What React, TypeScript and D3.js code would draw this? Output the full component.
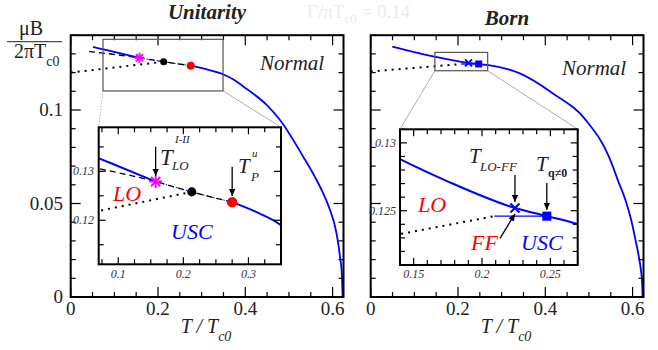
import * as d3 from "d3"

// main axes
const tDomain = [0, 0.625]
const bDomain = [0, 0.14]
const xTickValues = [0, 0.2, 0.4, 0.6]
const xTickLabels = ["0", "0.2", "0.4", "0.6"]
const yTickValues = [0, 0.05, 0.1]
const yTickLabels = ["0", "0.05", "0.1"]

// Unitarity: first-order (solid) branch up to T_LO^I-II, then second-order line from T_P^u
const uniSolidAT = [0.051, 0.09, 0.1575]
const uniSolidAB = [0.1337, 0.1316, 0.1279]
const uniSolidBT = [0.275, 0.31, 0.35, 0.373, 0.4, 0.4167, 0.45, 0.48, 0.533, 0.56, 0.579, 0.595, 0.606, 0.612, 0.617, 0.621, 0.623]
const uniSolidBB = [0.1237, 0.1218, 0.119, 0.1163, 0.1118, 0.109, 0.1025, 0.0945, 0.0749, 0.064, 0.0552, 0.046, 0.0373, 0.03, 0.0215, 0.013, 0]
const uniDashT = [0.042, 0.1575, 0.213, 0.275]
const uniDashB = [0.1313, 0.1279, 0.1258, 0.1237]
const uniDotT = [0, 0.213]
const uniDotB = [0.12, 0.1258]
const uniMagenta = [0.1575, 0.1279]
const uniBlack = [0.213, 0.1258]
const uniRed = [0.275, 0.1237]

// Born
const bornSolidT = [0.0495, 0.14, 0.174, 0.2241, 0.2474, 0.27, 0.3406, 0.4167, 0.493, 0.546, 0.567, 0.584, 0.597, 0.607, 0.614, 0.619, 0.622, 0.623]
const bornSolidB = [0.1339, 0.1288, 0.1272, 0.1252, 0.1246, 0.124, 0.1197, 0.109, 0.0946, 0.0749, 0.062, 0.0516, 0.041, 0.0301, 0.022, 0.0145, 0.007, 0]
const bornDotT = [0, 0.209]
const bornDotB = [0.1206, 0.1246]
const bornFFT = [0.209, 0.2474]
const bornFFB = [0.1246, 0.1246]
const bornCross = [0.2241, 0.1252]
const bornSquare = [0.2474, 0.1246]

// zoom boxes and insets
const uniBoxT = [0.074, 0.349]
const uniBoxB = [0.1102, 0.1378]
const uniInsetT = [0.07, 0.35]
const uniInsetB = [0.111, 0.139]
const uniInsetXTicks = [0.1, 0.2, 0.3]
const uniInsetXLabels = ["0.1", "0.2", "0.3"]
const uniInsetYTicks = [0.12, 0.13]
const uniInsetYLabels = ["0.12", "0.13"]

const bornBoxT = [0.147, 0.268]
const bornBoxB = [0.121, 0.1308]
const bornInsetT = [0.14, 0.27]
const bornInsetB = [0.121, 0.131]
const bornInsetXTicks = [0.15, 0.2, 0.25]
const bornInsetXLabels = ["0.15", "0.2", "0.25"]
const bornInsetYTicks = [0.125, 0.13]
const bornInsetYLabels = ["0.125", "0.13"]

const BLUE = "#0000ff"
const SERIF = "Liberation Serif"

const zip = (a: number[], b: number[]) => a.map((v, i) => [v, b[i]] as [number, number])

function Txt({ children, ...rest }: any) {
  return (
    <text {...rest} style={{ fontFamily: SERIF }}>
      {children}
    </text>
  )
}

function minorRange(lo: number, hi: number, step: number, major: number[]) {
  return d3
    .range(Math.ceil(lo / step - 1e-6) * step, hi + 1e-9, step)
    .filter((v) => !major.some((m) => Math.abs(m - v) < step / 10))
}

function Frame({ x, y, xMaj, xMin, yMaj, yMin, lMaj, lMin, sw }: any) {
  const [x0, x1] = x.range()
  const [y0, y1] = y.range()
  const ticks: any[] = []
  const addX = (vals: number[], len: number) =>
    vals.forEach((v) => {
      const px = x(v)
      ticks.push([px, y0, px, y0 - len], [px, y1, px, y1 + len])
    })
  const addY = (vals: number[], len: number) =>
    vals.forEach((v) => {
      const py = y(v)
      ticks.push([x0, py, x0 + len, py], [x1, py, x1 - len, py])
    })
  addX(xMaj, lMaj)
  addX(xMin, lMin)
  addY(yMaj, lMaj)
  addY(yMin, lMin)
  return (
    <g stroke="#000">
      {ticks.map((t, i) => (
        <line key={i} x1={t[0]} y1={t[1]} x2={t[2]} y2={t[3]} strokeWidth={1.2} />
      ))}
      <rect x={x0} y={y1} width={x1 - x0} height={y0 - y1} fill="none" strokeWidth={sw} />
    </g>
  )
}

function Asterisk({ cx, cy, r, color }: any) {
  return (
    <g stroke={color} strokeWidth={2}>
      {[0, 45, 90, 135].map((a) => {
        const dx = r * Math.cos((a * Math.PI) / 180)
        const dy = r * Math.sin((a * Math.PI) / 180)
        return <line key={a} x1={cx - dx} y1={cy - dy} x2={cx + dx} y2={cy + dy} />
      })}
    </g>
  )
}

function Cross({ cx, cy, r, color }: any) {
  return (
    <g stroke={color} strokeWidth={2}>
      <line x1={cx - r} y1={cy - r} x2={cx + r} y2={cy + r} />
      <line x1={cx - r} y1={cy + r} x2={cx + r} y2={cy - r} />
    </g>
  )
}

function UnitarityMarks({ x, y, s, lw }: any) {
  const line = d3
    .line<[number, number]>()
    .x((d) => x(d[0]))
    .y((d) => y(d[1]))
    .curve(d3.curveMonotoneX)
  return (
    <g>
      <path d={line(zip(uniDotT, uniDotB))!} fill="none" stroke="#000" strokeWidth={2} strokeDasharray="2,5" />
      <path d={line(zip(uniDashT.slice(1), uniDashB.slice(1)))!} fill="none" stroke={BLUE} strokeWidth={1} strokeDasharray="1.5,2" />
      <path d={line(zip(uniDashT, uniDashB))!} fill="none" stroke="#000" strokeWidth={1.3} strokeDasharray="6,4" />
      <path d={line(zip(uniSolidAT, uniSolidAB))!} fill="none" stroke={BLUE} strokeWidth={lw} />
      <path d={line(zip(uniSolidBT, uniSolidBB))!} fill="none" stroke={BLUE} strokeWidth={lw} />
      <Asterisk cx={x(uniMagenta[0])} cy={y(uniMagenta[1])} r={5 * s} color="#ff00ff" />
      <circle cx={x(uniBlack[0])} cy={y(uniBlack[1])} r={3.5 * s} fill="#000" />
      <circle cx={x(uniRed[0])} cy={y(uniRed[1])} r={4 * s} fill="#ff0000" />
    </g>
  )
}

function BornMarks({ x, y, s, lw }: any) {
  const line = d3
    .line<[number, number]>()
    .x((d) => x(d[0]))
    .y((d) => y(d[1]))
    .curve(d3.curveMonotoneX)
  const q = 3.5 * s
  return (
    <g>
      <path d={line(zip(bornDotT, bornDotB))!} fill="none" stroke="#000" strokeWidth={2} strokeDasharray="2,5" />
      <path d={line(zip(bornFFT, bornFFB))!} fill="none" stroke={BLUE} strokeWidth={1.3} />
      <path d={line(zip(bornSolidT, bornSolidB))!} fill="none" stroke={BLUE} strokeWidth={lw} />
      <Cross cx={x(bornCross[0])} cy={y(bornCross[1])} r={3.5 * s} color={BLUE} />
      <rect x={x(bornSquare[0]) - q} y={y(bornSquare[1]) - q} width={2 * q} height={2 * q} fill={BLUE} />
    </g>
  )
}

export default function App() {
  const yM = d3.scaleLinear().domain(bDomain).range([297, 35.2])
  const xL = d3.scaleLinear().domain(tDomain).range([70.7, 343.5])
  const xR = d3.scaleLinear().domain(tDomain).range([370.7, 643.5])

  const ixL = d3.scaleLinear().domain(uniInsetT).range([98.7, 281])
  const iyL = d3.scaleLinear().domain(uniInsetB).range([264.3, 127.3])
  const ixR = d3.scaleLinear().domain(bornInsetT).range([400, 577.7])
  const iyR = d3.scaleLinear().domain(bornInsetB).range([265, 129.3])

  const mainXMin = minorRange(0, 0.625, 0.05, xTickValues)
  const mainYMin = minorRange(0, 0.14, 0.01, yTickValues)

  const boxL = { x0: xL(uniBoxT[0]), x1: xL(uniBoxT[1]), y0: yM(uniBoxB[0]), y1: yM(uniBoxB[1]) }
  const boxR = { x0: xR(bornBoxT[0]), x1: xR(bornBoxT[1]), y0: yM(bornBoxB[0]), y1: yM(bornBoxB[1]) }

  return (
    <svg width={658} height={350} style={{ position: "absolute", left: 0, top: 0 }}>
      <defs>
        <marker id="ah" viewBox="0 0 10 10" refX={10} refY={5} markerWidth={8} markerHeight={7} markerUnits="userSpaceOnUse" orient="auto">
          <path d="M0,0.5 L10,5 L0,9.5 z" fill="#000" />
        </marker>
        <clipPath id="clipL">
          <rect x={98.7} y={127.3} width={281 - 98.7} height={264.3 - 127.3} />
        </clipPath>
        <clipPath id="clipR">
          <rect x={400} y={129.3} width={577.7 - 400} height={265 - 129.3} />
        </clipPath>
      </defs>
      <rect width={658} height={350} fill="#fff" />

      {/* faint parameter text */}
      <Txt x={307} y={18} fontSize={19} fill="#ebebeb">
        Γ/πT<tspan fontSize={13} dy={5}>c0</tspan>
        <tspan dy={-5}> = 0.14</tspan>
      </Txt>

      {/* titles */}
      <Txt x={207} y={19} fontSize={21} fontWeight="bold" fontStyle="italic" textAnchor="middle" fill="#222">
        Unitarity
      </Txt>
      <Txt x={507} y={24.5} fontSize={21} fontWeight="bold" fontStyle="italic" textAnchor="middle" fill="#222">
        Born
      </Txt>

      {/* y label */}
      <Txt x={31} y={35} fontSize={20} textAnchor="middle" fill="#222">μB</Txt>
      <line x1={7} x2={62} y1={41.7} y2={41.7} stroke="#222" strokeWidth={1} />
      <Txt x={14} y={58} fontSize={20} fill="#222">
        2πT<tspan fontSize={14} dy={8}>c0</tspan>
      </Txt>

      {/* main curves */}
      <UnitarityMarks x={xL} y={yM} s={1} lw={1.8} />
      <BornMarks x={xR} y={yM} s={1} lw={1.8} />

      {/* main frames */}
      <Frame x={xL} y={yM} xMaj={xTickValues} xMin={mainXMin} yMaj={yTickValues} yMin={mainYMin} lMaj={10} lMin={5} sw={2} />
      <Frame x={xR} y={yM} xMaj={xTickValues} xMin={mainXMin} yMaj={yTickValues} yMin={mainYMin} lMaj={10} lMin={5} sw={2} />

      {/* tick labels */}
      {yTickValues.map((v, i) => (
        <Txt key={"yl" + i} x={63} y={yM(v) + 6} fontSize={19} textAnchor="end" fill="#222">
          {yTickLabels[i]}
        </Txt>
      ))}
      {xTickValues.map((v, i) => (
        <g key={"xl" + i}>
          <Txt x={xL(v)} y={315} fontSize={19} textAnchor="middle" fill="#222">{xTickLabels[i]}</Txt>
          <Txt x={xR(v)} y={315} fontSize={19} textAnchor="middle" fill="#222">{xTickLabels[i]}</Txt>
        </g>
      ))}
      {[xL, xR].map((x, i) => (
        <Txt key={"xt" + i} x={x(0.252)} y={333} fontSize={20} fontStyle="italic" fill="#222">
          T / T<tspan fontSize={14} dy={8}>c0</tspan>
        </Txt>
      ))}

      <Txt x={260} y={70} fontSize={21} fontStyle="italic" fill="#222">Normal</Txt>
      <Txt x={562} y={75} fontSize={21} fontStyle="italic" fill="#222">Normal</Txt>

      {/* zoom boxes and connectors */}
      <rect x={boxL.x0} y={boxL.y1} width={boxL.x1 - boxL.x0} height={boxL.y0 - boxL.y1} fill="none" stroke="#555" strokeWidth={1.2} />
      <rect x={boxR.x0} y={boxR.y1} width={boxR.x1 - boxR.x0} height={boxR.y0 - boxR.y1} fill="none" stroke="#555" strokeWidth={1.2} />
      <line x1={boxL.x0} y1={boxL.y0} x2={98.7} y2={127.3} stroke="#999" strokeWidth={0.8} strokeDasharray="1.5,1.5" />
      <line x1={boxL.x1} y1={boxL.y0} x2={281} y2={127.3} stroke="#999" strokeWidth={0.8} />
      <line x1={boxR.x0} y1={boxR.y0} x2={400} y2={129.3} stroke="#999" strokeWidth={0.8} />
      <line x1={boxR.x1} y1={boxR.y0} x2={577.7} y2={129.3} stroke="#999" strokeWidth={0.8} />

      {/* left inset */}
      <rect x={98.7} y={127.3} width={281 - 98.7} height={264.3 - 127.3} fill="#fff" />
      <g clipPath="url(#clipL)">
        <UnitarityMarks x={ixL} y={iyL} s={1.3} lw={2} />
      </g>
      <Frame
        x={ixL}
        y={iyL}
        xMaj={uniInsetXTicks}
        xMin={minorRange(0.07, 0.35, 0.025, uniInsetXTicks)}
        yMaj={uniInsetYTicks}
        yMin={minorRange(0.111, 0.139, 0.005, uniInsetYTicks)}
        lMaj={7}
        lMin={5}
        sw={2}
      />
      {uniInsetXTicks.map((v, i) => (
        <Txt key={"ilx" + i} x={ixL(v)} y={278} fontSize={12} fontStyle="italic" textAnchor="middle" fill="#333">
          {uniInsetXLabels[i]}
        </Txt>
      ))}
      {uniInsetYTicks.map((v, i) => (
        <Txt key={"ily" + i} x={94} y={iyL(v) + 4} fontSize={12} fontStyle="italic" textAnchor="end" fill="#333">
          {uniInsetYLabels[i]}
        </Txt>
      ))}
      <Txt x={113} y={201} fontSize={22} fontStyle="italic" fill="#ff0000">LO</Txt>
      <Txt x={171} y={239} fontSize={22} fontStyle="italic" fill={BLUE}>USC</Txt>
      <Txt x={160} y={165} fontSize={23} fontStyle="italic" fill="#222">T</Txt>
      <Txt x={172} y={170} fontSize={13} fontStyle="italic" fill="#222">LO</Txt>
      <Txt x={175} y={143} fontSize={11} fontStyle="italic" fill="#222">I-II</Txt>
      <line x1={ixL(uniMagenta[0])} y1={146.7} x2={ixL(uniMagenta[0])} y2={176} stroke="#000" strokeWidth={1.3} markerEnd="url(#ah)" />
      <Txt x={238} y={173} fontSize={21} fontStyle="italic" fill="#222">T</Txt>
      <Txt x={251} y={181} fontSize={13} fontStyle="italic" fill="#222">P</Txt>
      <Txt x={252} y={157} fontSize={11} fontStyle="italic" fill="#222">u</Txt>
      <line x1={ixL(uniRed[0])} y1={166.7} x2={ixL(uniRed[0])} y2={196} stroke="#000" strokeWidth={1.3} markerEnd="url(#ah)" />

      {/* right inset */}
      <rect x={400} y={129.3} width={577.7 - 400} height={265 - 129.3} fill="#fff" />
      <g clipPath="url(#clipR)">
        <BornMarks x={ixR} y={iyR} s={1.3} lw={2} />
      </g>
      <Frame
        x={ixR}
        y={iyR}
        xMaj={bornInsetXTicks}
        xMin={minorRange(0.14, 0.27, 0.01, bornInsetXTicks)}
        yMaj={bornInsetYTicks}
        yMin={minorRange(0.121, 0.131, 0.001, bornInsetYTicks)}
        lMaj={7}
        lMin={5}
        sw={2}
      />
      {bornInsetXTicks.map((v, i) => (
        <Txt key={"irx" + i} x={ixR(v)} y={278} fontSize={12} fontStyle="italic" textAnchor="middle" fill="#333">
          {bornInsetXLabels[i]}
        </Txt>
      ))}
      {bornInsetYTicks.map((v, i) => (
        <Txt key={"iry" + i} x={396} y={iyR(v) + 4} fontSize={12} fontStyle="italic" textAnchor="end" fill="#333">
          {bornInsetYLabels[i]}
        </Txt>
      ))}
      <Txt x={418} y={212} fontSize={22} fontStyle="italic" fill="#ff0000">LO</Txt>
      <Txt x={471} y={250} fontSize={22} fontStyle="italic" fill="#ff0000">FF</Txt>
      <Txt x={521} y={250} fontSize={22} fontStyle="italic" fill={BLUE}>USC</Txt>
      <Txt x={469} y={163} fontSize={21} fontStyle="italic" fill="#222">T</Txt>
      <Txt x={480} y={171} fontSize={13} fontStyle="italic" fill="#222">LO-FF</Txt>
      <line x1={ixR(bornCross[0])} y1={175} x2={ixR(bornCross[0])} y2={202} stroke="#000" strokeWidth={1.3} markerEnd="url(#ah)" />
      <Txt x={536} y={171} fontSize={21} fontStyle="italic" fill="#222">T</Txt>
      <Txt x={548} y={177} fontSize={12} fontWeight="bold" fill="#222">q≠0</Txt>
      <line x1={ixR(bornSquare[0])} y1={183} x2={ixR(bornSquare[0])} y2={210} stroke="#000" strokeWidth={1.3} markerEnd="url(#ah)" />
      <line x1={500} y1={238.3} x2={ixR(bornCross[0])} y2={214} stroke="#000" strokeWidth={1.3} markerEnd="url(#ah)" />
    </svg>
  )
}
